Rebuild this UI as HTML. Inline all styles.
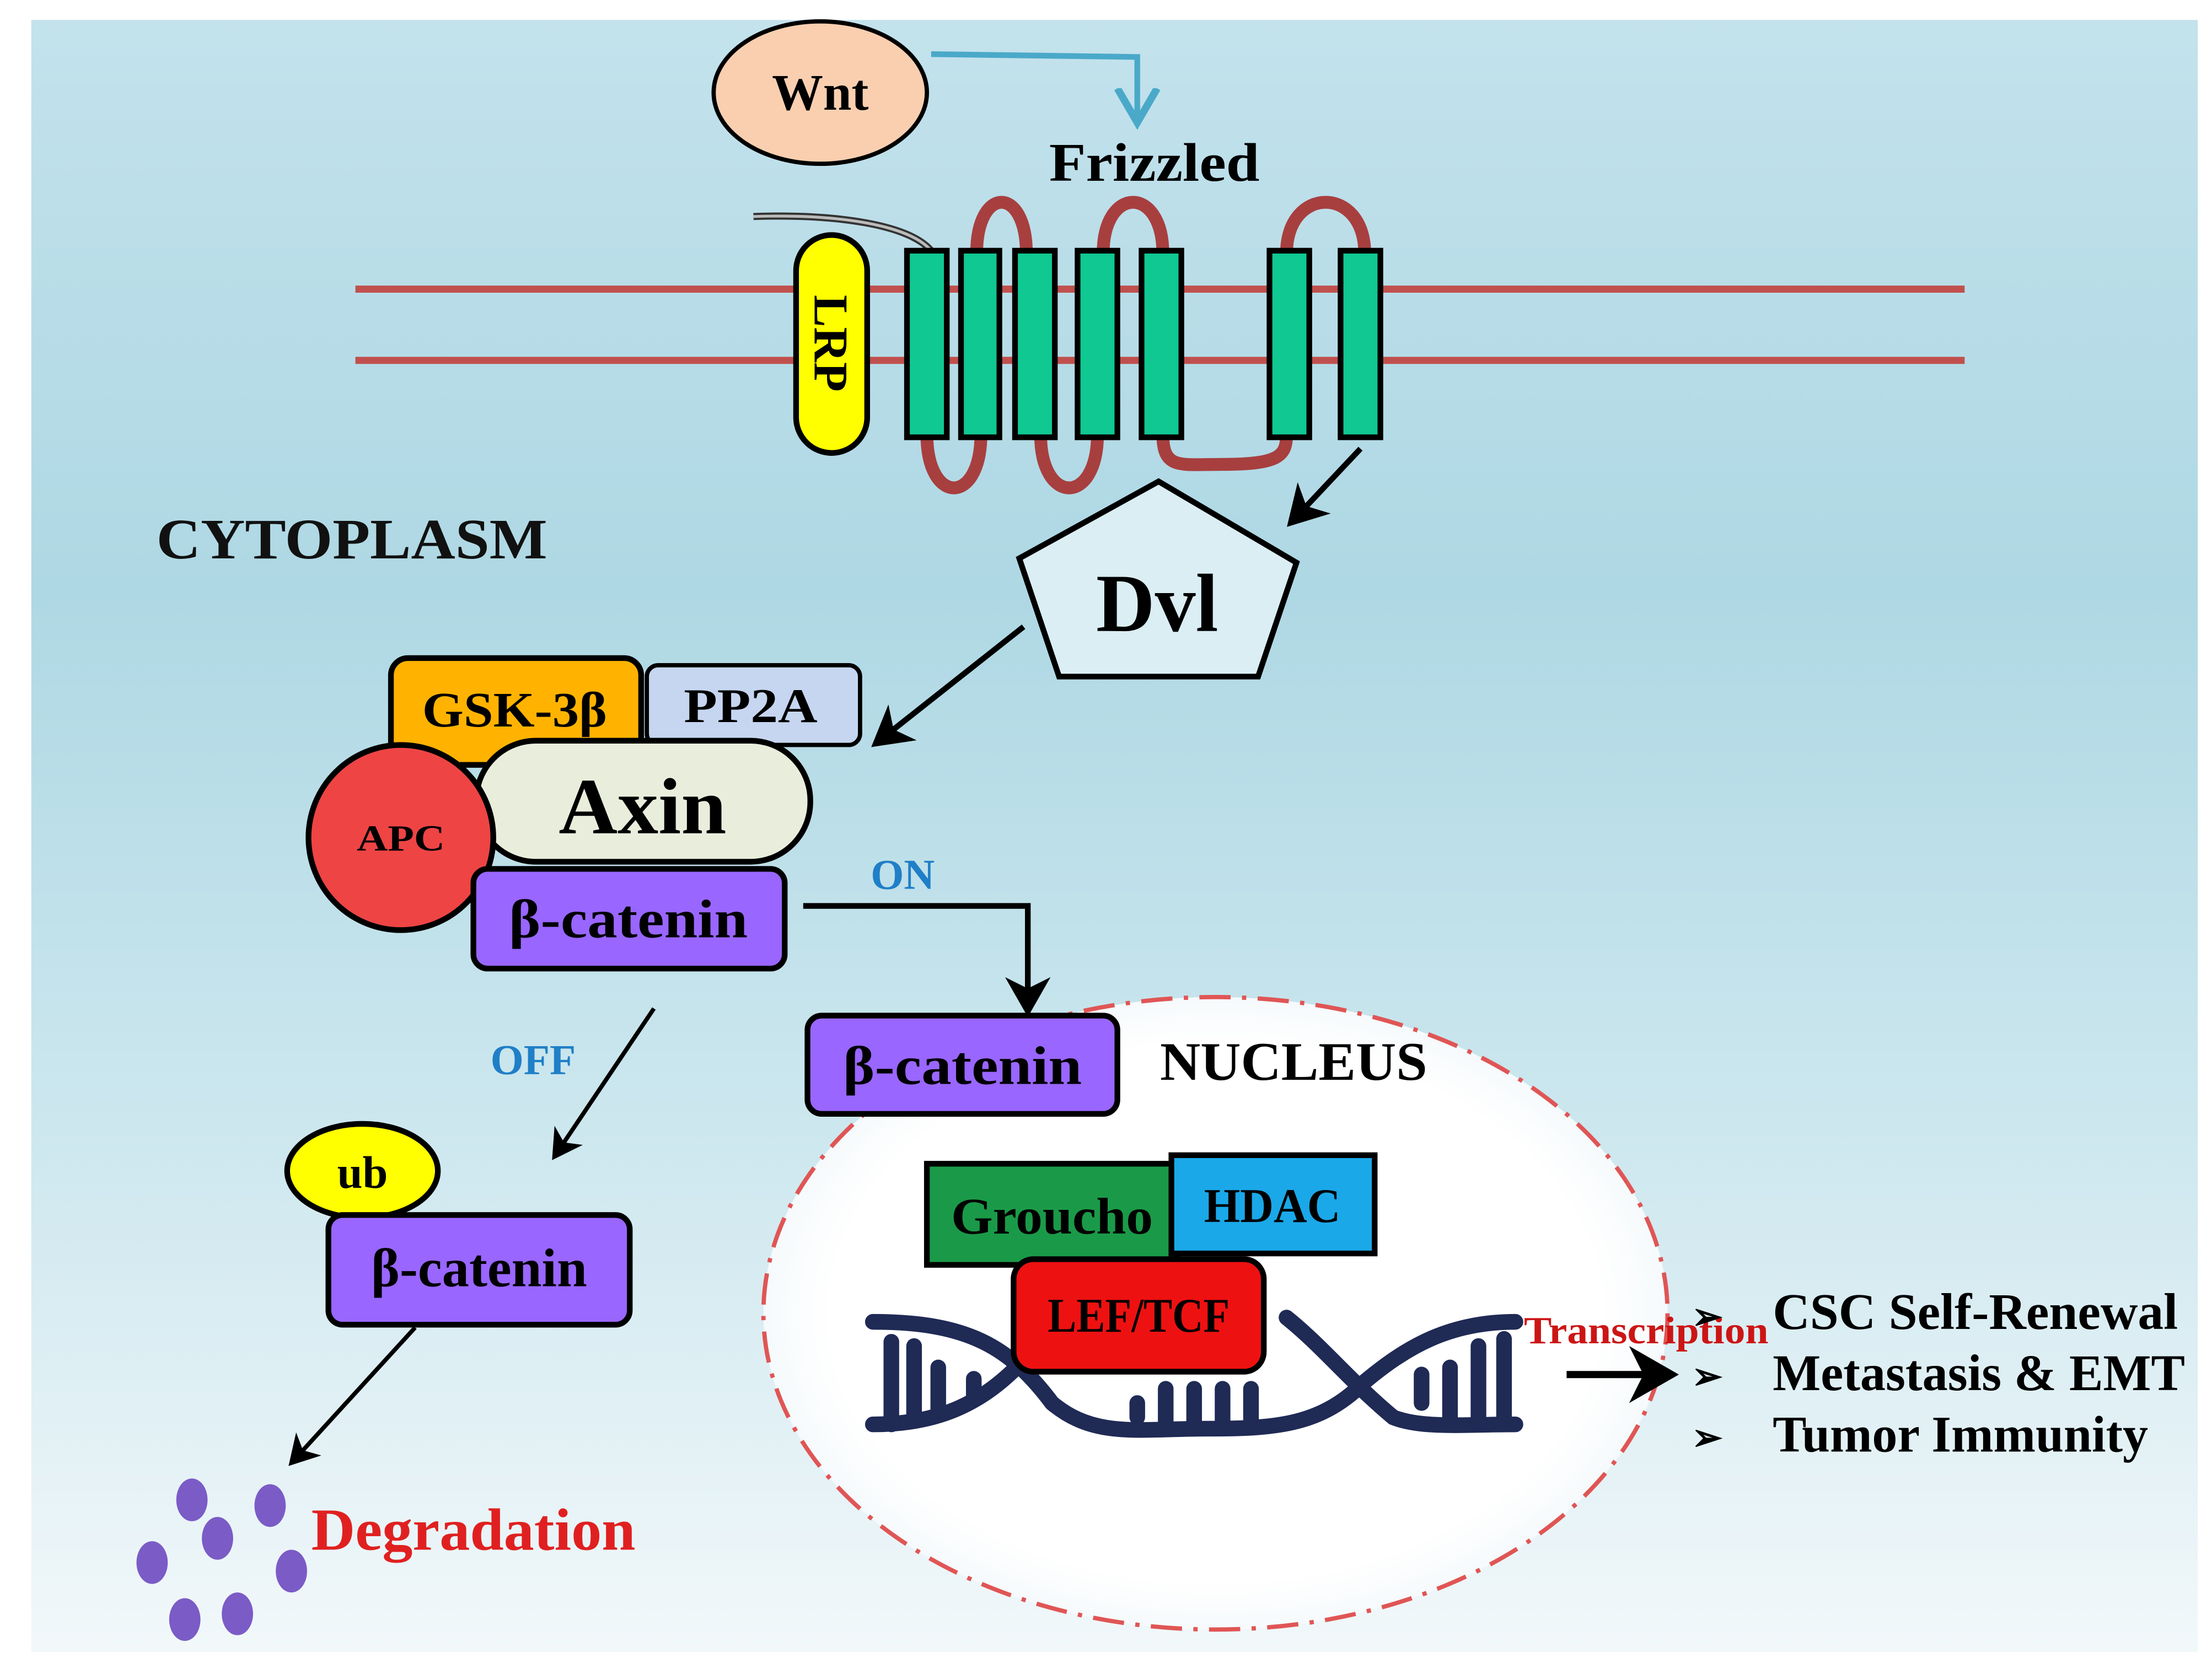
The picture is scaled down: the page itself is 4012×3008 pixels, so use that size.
<!DOCTYPE html>
<html><head><meta charset="utf-8"><style>html,body{margin:0;padding:0;background:#fff}svg{display:block}text{font-family:"Liberation Serif",serif;font-weight:bold}</style></head>
<body>
<svg width="4012" height="3008" viewBox="0 0 1556 1164" preserveAspectRatio="none" xmlns="http://www.w3.org/2000/svg">
<defs>
<linearGradient id="bg" x1="0" y1="0" x2="0" y2="1">
<stop offset="0" stop-color="#c3e2ec"/><stop offset="0.35" stop-color="#aed8e4"/><stop offset="0.7" stop-color="#cfe8ef"/><stop offset="1" stop-color="#f2f8fa"/>
</linearGradient>
<radialGradient id="nuc" cx="0.5" cy="0.5" r="0.5">
<stop offset="0" stop-color="#ffffff"/><stop offset="0.85" stop-color="#ffffff"/><stop offset="1" stop-color="#f6fafc"/>
</radialGradient>
<marker id="ah" markerWidth="8" markerHeight="8" refX="6" refY="4" orient="auto" markerUnits="strokeWidth"><path d="M0,0 L7,4 L0,8 L2,4 Z" fill="#000"/></marker>
<marker id="ahb" markerWidth="8" markerHeight="8" refX="5" refY="4" orient="auto" markerUnits="strokeWidth"><path d="M0,0.5 L6,4 L0,7.5" fill="none" stroke="#4aa9c9" stroke-width="1.3"/></marker>
</defs>
<rect x="0" y="0" width="1556" height="1164" fill="#fff"/>
<rect x="22" y="14" width="1524" height="1146" fill="url(#bg)"/>

<ellipse cx="855" cy="922" rx="318" ry="222" fill="url(#nuc)" stroke="#e05555" stroke-width="3" stroke-dasharray="22,8,3,8"/>

<ellipse cx="577" cy="65" rx="75" ry="50" fill="#f9cfb0" stroke="#000" stroke-width="3"/>
<text x="577" y="77" font-size="36" text-anchor="middle" textLength="68" lengthAdjust="spacingAndGlyphs">Wnt</text>
<path d="M655,38 L800,40 L800,82" fill="none" stroke="#4aa9c9" stroke-width="4" marker-end="url(#ahb)"/>
<text x="812" y="127" font-size="38" text-anchor="middle" textLength="148" lengthAdjust="spacingAndGlyphs">Frizzled</text>

<line x1="250" y1="203" x2="1382" y2="203" stroke="#c0504d" stroke-width="5"/>
<line x1="250" y1="253" x2="1382" y2="253" stroke="#c0504d" stroke-width="5"/>

<g fill="none" stroke="#a83f3f" stroke-width="9">
<path d="M687,178 C687,130 722,130 722,178"/>
<path d="M776,178 C776,130 818,130 818,178"/>
<path d="M905,178 C905,130 960,130 960,178"/>
<path d="M652,305 C652,355 690,355 690,305"/>
<path d="M732,305 C732,355 772,355 772,305"/>
<path d="M818,305 C818,330 830,326 860,326 C900,326 905,320 905,305"/>
</g>
<path d="M530,152 C590,150 640,158 655,176" fill="none" stroke="#333" stroke-width="5"/>
<path d="M530,152 C590,150 640,158 655,176" fill="none" stroke="#bbb" stroke-width="2"/>

<rect x="560" y="165" width="50" height="153" rx="25" fill="#ffff00" stroke="#000" stroke-width="4"/>
<text transform="translate(573,241) rotate(90)" font-size="34" text-anchor="middle">LRP</text>

<g fill="#10c892" stroke="#000" stroke-width="4">
<rect x="638" y="176" width="28" height="131"/>
<rect x="676" y="176" width="27" height="131"/>
<rect x="714" y="176" width="28" height="131"/>
<rect x="758" y="176" width="28" height="131"/>
<rect x="803" y="176" width="28" height="131"/>
<rect x="893" y="176" width="28" height="131"/>
<rect x="943" y="176" width="28" height="131"/>
</g>

<line x1="957" y1="315" x2="908" y2="367" stroke="#000" stroke-width="4" marker-end="url(#ah)"/>

<polygon points="815,338 912,395 885,475 745,475 717,392" fill="#dbeef4" stroke="#000" stroke-width="4"/>
<text x="814" y="443" font-size="58" text-anchor="middle" textLength="86" lengthAdjust="spacingAndGlyphs">Dvl</text>

<text x="110" y="392" font-size="40" fill="#111" textLength="275" lengthAdjust="spacingAndGlyphs">CYTOPLASM</text>

<line x1="720" y1="440" x2="616" y2="522" stroke="#000" stroke-width="4" marker-end="url(#ah)"/>

<rect x="455" y="467" width="150" height="56" rx="8" fill="#c6d6f0" stroke="#000" stroke-width="3"/>
<text x="528" y="507" font-size="34" text-anchor="middle" textLength="94" lengthAdjust="spacingAndGlyphs">PP2A</text>
<rect x="275" y="462" width="176" height="75" rx="12" fill="#ffb300" stroke="#000" stroke-width="4"/>
<text x="362" y="510" font-size="35" text-anchor="middle" textLength="130" lengthAdjust="spacingAndGlyphs">GSK-3β</text>
<rect x="335" y="520" width="235" height="85" rx="42" fill="#e9eedc" stroke="#000" stroke-width="4"/>
<text x="452" y="585" font-size="56" text-anchor="middle" textLength="118" lengthAdjust="spacingAndGlyphs">Axin</text>
<circle cx="282" cy="588" r="65" fill="#ee4444" stroke="#000" stroke-width="4"/>
<text x="282" y="597" font-size="26" text-anchor="middle" textLength="62" lengthAdjust="spacingAndGlyphs">APC</text>
<rect x="333" y="610" width="219" height="70" rx="10" fill="#9966ff" stroke="#000" stroke-width="4"/>
<text x="442" y="658" font-size="38" text-anchor="middle" textLength="168" lengthAdjust="spacingAndGlyphs">β-catenin</text>

<text x="635" y="624" font-size="30" fill="#1f7fc7" text-anchor="middle">ON</text>
<path d="M565,636 L723,636 L723,710" fill="none" stroke="#000" stroke-width="4" marker-end="url(#ah)"/>

<rect x="568" y="713" width="218" height="69" rx="10" fill="#9966ff" stroke="#000" stroke-width="4"/>
<text x="677" y="761" font-size="38" text-anchor="middle" textLength="168" lengthAdjust="spacingAndGlyphs">β-catenin</text>
<text x="910" y="758" font-size="38" text-anchor="middle" textLength="188" lengthAdjust="spacingAndGlyphs">NUCLEUS</text>

<text x="375" y="754" font-size="30" fill="#1f7fc7" text-anchor="middle">OFF</text>
<line x1="460" y1="708" x2="390" y2="812" stroke="#000" stroke-width="3" marker-end="url(#ah)"/>

<ellipse cx="255" cy="822" rx="53" ry="33" fill="#ffff00" stroke="#000" stroke-width="4"/>
<text x="255" y="834" font-size="32" text-anchor="middle">ub</text>
<rect x="231" y="853" width="212" height="77" rx="10" fill="#9966ff" stroke="#000" stroke-width="4"/>
<text x="337" y="903" font-size="38" text-anchor="middle" textLength="152" lengthAdjust="spacingAndGlyphs">β-catenin</text>
<line x1="292" y1="932" x2="205" y2="1027" stroke="#000" stroke-width="3" marker-end="url(#ah)"/>

<g fill="#7b5bc6">
<ellipse cx="135" cy="1053" rx="11" ry="15"/><ellipse cx="190" cy="1057" rx="11" ry="15"/>
<ellipse cx="153" cy="1080" rx="11" ry="15"/><ellipse cx="107" cy="1097" rx="11" ry="15"/>
<ellipse cx="205" cy="1103" rx="11" ry="15"/><ellipse cx="130" cy="1137" rx="11" ry="15"/>
<ellipse cx="167" cy="1133" rx="11" ry="15"/>
</g>
<text x="333" y="1088" font-size="42" fill="#e02020" text-anchor="middle" textLength="228" lengthAdjust="spacingAndGlyphs">Degradation</text>

<g fill="none" stroke="#1f2a55" stroke-width="11" stroke-linecap="round">
<path d="M614,928 C680,928 710,945 740,985 C770,1010 800,1003 850,1003 C900,1003 930,1000 960,970 C990,945 1020,928 1066,928"/>
<path d="M614,1000 C660,1000 690,985 715,960 M905,925 C930,945 950,970 980,995 C1000,1003 1030,1000 1066,1000"/>
<path d="M960,930 C975,950 990,965 985,965" stroke-width="0"/>
<line x1="627" y1="942" x2="627" y2="1000"/><line x1="643" y1="945" x2="643" y2="995"/>
<line x1="660" y1="960" x2="660" y2="990"/><line x1="685" y1="968" x2="685" y2="982"/>
<line x1="800" y1="985" x2="800" y2="995"/><line x1="820" y1="975" x2="820" y2="1000"/><line x1="840" y1="975" x2="840" y2="1003"/>
<line x1="860" y1="975" x2="860" y2="1003"/><line x1="880" y1="975" x2="880" y2="1000"/>
<line x1="1000" y1="965" x2="1000" y2="985"/><line x1="1020" y1="960" x2="1020" y2="995"/>
<line x1="1040" y1="945" x2="1040" y2="1000"/><line x1="1058" y1="940" x2="1058" y2="1000"/>
</g>

<rect x="652" y="817" width="176" height="71" fill="#1a9a48" stroke="#000" stroke-width="4"/>
<text x="740" y="866" font-size="36" text-anchor="middle" textLength="142" lengthAdjust="spacingAndGlyphs">Groucho</text>
<rect x="824" y="811" width="143" height="69" fill="#1aa8e8" stroke="#000" stroke-width="4"/>
<text x="895" y="858" font-size="34" text-anchor="middle" textLength="96" lengthAdjust="spacingAndGlyphs">HDAC</text>
<rect x="713" y="884" width="176" height="79" rx="14" fill="#ee1111" stroke="#000" stroke-width="4"/>
<text x="801" y="935" font-size="34" text-anchor="middle" textLength="128" lengthAdjust="spacingAndGlyphs">LEF/TCF</text>

<text x="1158" y="943" font-size="27" fill="#cc1515" text-anchor="middle" textLength="172" lengthAdjust="spacingAndGlyphs">Transcription</text>
<line x1="1102" y1="965" x2="1176" y2="965" stroke="#000" stroke-width="5" marker-end="url(#ah)"/>

<g font-size="26"><text x="1190" y="933" font-weight="normal">➢</text><text x="1190" y="975" font-weight="normal">➢</text><text x="1190" y="1018" font-weight="normal">➢</text></g>
<g font-size="36">
<text x="1247" y="933" textLength="285" lengthAdjust="spacingAndGlyphs">CSC Self-Renewal</text>
<text x="1247" y="976" textLength="290" lengthAdjust="spacingAndGlyphs">Metastasis &amp; EMT</text>
<text x="1247" y="1019" textLength="264" lengthAdjust="spacingAndGlyphs">Tumor Immunity</text>
</g>
</svg>
</body></html>
